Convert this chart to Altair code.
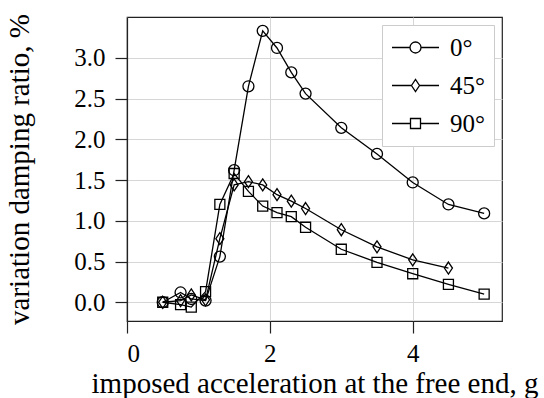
import altair as alt
import pandas as pd

# ---- data ----
x_all = [0.5, 0.75, 0.9, 1.1, 1.3, 1.5, 1.7, 1.9, 2.1, 2.3, 2.5, 3.0, 3.5, 4.0, 4.5, 5.0]
y_0 = [0.0, 0.12, 0.04, 0.02, 0.56, 1.62, 2.65, 3.33, 3.12, 2.82, 2.56, 2.14, 1.82, 1.47, 1.20, 1.09]
x_45 = [0.5, 0.75, 0.9, 1.1, 1.3, 1.5, 1.7, 1.9, 2.1, 2.3, 2.5, 3.0, 3.5, 4.0, 4.5]
y_45 = [0.0, 0.02, 0.09, 0.03, 0.78, 1.44, 1.48, 1.44, 1.32, 1.24, 1.15, 0.89, 0.68, 0.52, 0.42]
y_90 = [0.0, -0.03, -0.06, 0.13, 1.20, 1.58, 1.36, 1.18, 1.10, 1.05, 0.92, 0.65, 0.49, 0.35, 0.22, 0.10]
series = ["0°", "45°", "90°"]
x_ticks = [0, 2, 4]
y_ticks = [0.0, 0.5, 1.0, 1.5, 2.0, 2.5, 3.0]

rows = []
for name, xs, ys in [("0°", x_all, y_0), ("45°", x_45, y_45), ("90°", x_all, y_90)]:
    for xv, yv in zip(xs, ys):
        rows.append({"x": xv, "y": yv, "series": name})
df = pd.DataFrame(rows)

FONT = "Liberation Serif"
FS_LABEL = 25
FS_TITLE = 29

# marker shapes (unit coords, same size)
circle = "M1,0 A1,1 0 1,1 -1,0 A1,1 0 1,1 1,0 Z"
diamond = "M0,-1.09 L0.73,0 L0,1.09 L-0.73,0 Z"
square = "M-0.91,-0.91 L0.91,-0.91 L0.91,0.91 L-0.91,0.91 Z"

# legend shapes: line + marker, marker centred at x=0.88
leg_circle = "M-1,0 L0.44,0 M1.32,0 L2.76,0 M1.32,0 A0.44,0.44 0 1,1 0.44,0 A0.44,0.44 0 1,1 1.32,0 Z"
leg_diamond = "M-1,0 L0.56,0 M1.2,0 L2.76,0 M0.56,0 L0.88,-0.48 L1.2,0 L0.88,0.48 Z"
leg_square = "M-1,0 L0.48,0 M1.28,0 L2.76,0 M0.48,-0.4 L1.28,-0.4 L1.28,0.4 L0.48,0.4 Z"

xs = alt.Scale(domain=[0, 5.25], nice=False, zero=False)
ys = alt.Scale(domain=[-0.23, 3.5], nice=False, zero=False)

x_enc = alt.X("x:Q", scale=xs, axis=alt.Axis(
    values=x_ticks, format="d", title="imposed acceleration at the free end, g",
    titleY=71, titleBaseline="alphabetic", labelPadding=8))
y_enc = alt.Y("y:Q", scale=ys, axis=alt.Axis(
    values=y_ticks, format=".1f", title="variation damping ratio, %",
    titleX=-99, titleY=152, titleAngle=-90, titleBaseline="alphabetic",
    titleAlign="center", labelPadding=10))

lines = alt.Chart(df).mark_line(color="black", strokeWidth=1.3).encode(
    x=x_enc, y=y_enc, detail="series:N", order="x:Q")

points = alt.Chart(df).mark_point(filled=False, color="black", strokeWidth=1.3, size=121, opacity=1).encode(
    x="x:Q", y="y:Q",
    shape=alt.Shape("series:N", scale=alt.Scale(domain=series, range=[circle, diamond, square]), legend=None))

legend_layer = alt.Chart(df).transform_filter("false").mark_point(
    filled=False, color="black", strokeWidth=1.3, opacity=1).encode(
    x="x:Q", y="y:Q",
    shape=alt.Shape("series:N", scale=alt.Scale(domain=series, range=[leg_circle, leg_diamond, leg_square]),
                    legend=alt.Legend(title=None, orient="top-right", offset=8, symbolSize=625,
                                      symbolStrokeColor="black", symbolStrokeWidth=1.3,
                                      labelFont=FONT, labelFontSize=FS_LABEL, labelColor="black",
                                      labelOffset=32, rowPadding=11, padding=9,
                                      strokeColor="#cccccc", fillColor="white", cornerRadius=0)))

chart = alt.layer(lines, points, legend_layer).resolve_scale(shape="independent").properties(
    width=375, height=304,
    autosize=alt.AutoSizeParams(type="none"),
    padding={"left": 127, "top": 17, "right": 42, "bottom": 77},
).configure_view(stroke="#222222", strokeWidth=1.2).configure_axis(
    labelFont=FONT, labelFontSize=FS_LABEL, labelColor="black",
    titleFont=FONT, titleFontSize=FS_TITLE, titleColor="black", titleFontWeight="normal",
    grid=True, gridColor="#d6d6d6", gridWidth=1,
    domainColor="#222222", domainWidth=1.2,
    tickColor="#222222", tickSize=12, tickWidth=1.2,
).configure_legend(
    labelFont=FONT, labelFontSize=FS_LABEL, labelColor="black",
)

chart.save("out.html", embed_options={"renderer": "svg", "actions": False})
